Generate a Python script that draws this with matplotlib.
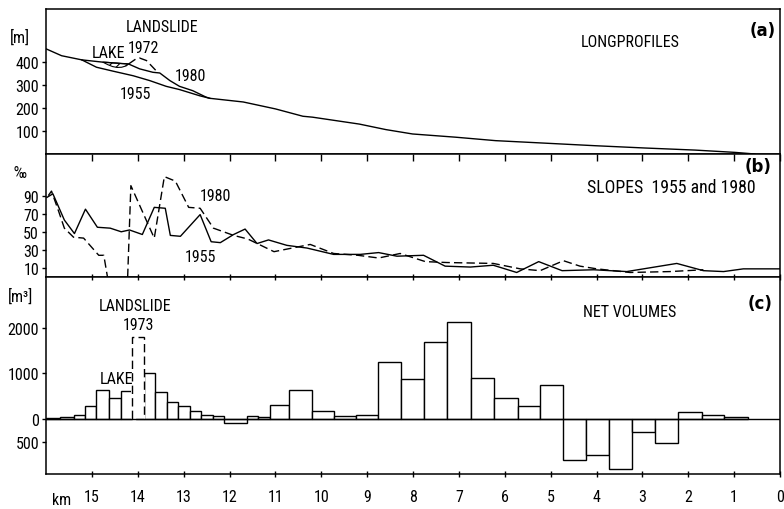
import numpy as np
import matplotlib
matplotlib.use("Agg")
import matplotlib.pyplot as plt

plt.rcParams['font.family'] = ['Roboto Condensed', 'DejaVu Sans']
plt.rcParams['font.size'] = 11.5
plt.rcParams['hatch.linewidth'] = 0.8

# (a) long profiles, km from mouth / elevation m
prof55_km = [16.0, 15.66, 15.22, 14.9, 14.54, 14.1, 13.74, 13.38, 13.09, 12.65, 12.43,
             11.7, 11.0, 10.4, 10.19, 9.17, 8.59, 8.01, 7.07, 6.2, 5.11, 4.03, 2.94, 1.85, 0.98, 0.55]
prof55_m = [457, 427, 409, 377, 360, 340, 319, 294, 280, 253, 242,
            226, 196, 164, 160, 130, 106, 87, 73, 58, 47, 36, 26, 17, 7, 0]
prof80_km = [15.22, 14.76, 14.2, 13.96, 13.67, 13.52, 13.3, 13.09, 12.8, 12.51, 12.43]
prof80_m = [409, 399, 391, 370, 355, 352, 319, 294, 275, 247, 242]
prof72_km = [14.2, 14.04, 13.96, 13.81, 13.6]
prof72_m = [391, 413, 417, 406, 362]
lake_km = [14.76, 14.65, 14.55, 14.45, 14.35, 14.25, 14.2]
lake_top = [399, 398, 396, 395, 393, 392, 391]
lake_bot = [399, 388, 380, 376, 377, 383, 391]

# (b) slopes in permille
slope55_km = [15.98, 15.85, 15.6, 15.38, 15.14, 14.88, 14.6, 14.36, 14.18, 13.9, 13.64, 13.4,
              13.29, 13.07, 12.64, 12.4, 12.2, 11.91, 11.66, 11.4, 11.15, 10.75, 10.31, 9.73,
              9.15, 8.75, 8.35, 7.77, 7.3, 6.75, 6.25, 5.74, 5.26, 4.75, 4.06, 3.34, 2.25,
              1.67, 1.23, 0.8, 0.0]
slope55 = [88, 92, 63, 48, 75, 55, 54, 50, 52, 47, 77, 76,
           46, 45, 69, 39, 38, 47, 53, 37, 41, 35, 32, 25,
           25, 27, 23, 24, 12, 11, 13, 5, 17, 7, 8, 6, 15,
           7, 6, 9, 9]
slope80_km = [15.95, 15.88, 15.72, 15.6, 15.4, 15.18, 14.85, 14.74, 14.66, 14.45, 14.22, 14.15,
              13.64, 13.42, 13.18, 12.89, 12.64, 12.35, 11.91, 11.6, 11.03, 10.24, 9.73, 9.2,
              8.75, 8.28, 7.73, 7.26, 6.25, 5.66, 5.23, 4.72, 4.36, 3.99, 3.27, 2.4, 1.67]
slope80 = [90, 95, 72, 54, 44, 43, 24, 24, 0, np.nan, 0, 101,
           43, 111, 106, 77, 76, 54, 46, 42, 28, 36, 26, 24,
           21, 26, 17, 16, 15, 9, 7, 18, 12, 9, 5, 6, 8]

# (c) net volumes per reach, m3
vol_edges = [16.0, 15.7, 15.4, 15.15, 14.9, 14.62, 14.37, 14.12, 13.87, 13.62, 13.37, 13.12,
             12.87, 12.62, 12.37, 12.12, 11.62, 11.37, 11.12, 10.7, 10.2, 9.72, 9.25, 8.76,
             8.26, 7.76, 7.25, 6.74, 6.23, 5.72, 5.23, 4.73, 4.23, 3.72, 3.23, 2.72, 2.22,
             1.71, 1.21, 0.7]
net_vol = [20, 35, 88, 279, 637, 454, 608, 1795, 1004, 601, 381, 279,
           183, 95, 59, -95, 73, 51, 315, 645, 169, 73, 95, 1245,
           879, 1700, 2139, 894, 454, 293, 755, -894, -791, -1099, -278, -527, 161,
           95, 51]
landslide_idx = 7

km_ticks = list(range(15, -1, -1))

fig = plt.figure(figsize=(7.84, 5.10), dpi=100)
L, W = 46 / 784, 734 / 784
ax_a = fig.add_axes([L, 1 - 155 / 510, W, 145 / 510])
ax_b = fig.add_axes([L, 1 - 278 / 510, W, 123 / 510])
ax_c = fig.add_axes([L, 1 - 475 / 510, W, 197 / 510])

for ax in (ax_a, ax_b, ax_c):
    ax.set_xlim(16, 0)
    ax.set_xticks(km_ticks)
    for s in ax.spines.values():
        s.set_linewidth(1.1)
    ax.tick_params(axis='y', direction='out', length=3, width=1, pad=2)

lw = 1.0
dash = (0, (6, 3))
tag = dict(ha='center', va='center', fontsize=12, fontweight='bold', family=['DejaVu Sans'])

# ---- (a)
ax_a.plot(prof55_km, prof55_m, color='k', lw=lw)
ax_a.plot(prof80_km, prof80_m, color='k', lw=lw)
ax_a.plot(prof72_km, prof72_m, color='k', lw=lw, ls=dash)
ax_a.fill_between(lake_km, lake_bot, lake_top, facecolor='none', edgecolor='k',
                  hatch='////', lw=0.8)
ax_a.set_ylim(0, 630)
ax_a.set_yticks([100, 200, 300, 400])
ax_a.tick_params(axis='x', bottom=False, labelbottom=False)
ax_a.text(13.46, 552, 'LANDSLIDE', ha='center', va='center')
ax_a.text(13.88, 461, '1972', ha='center', va='center')
ax_a.text(14.64, 443, 'LAKE', ha='center', va='center')
ax_a.text(12.85, 339, '1980', ha='center', va='center')
ax_a.text(14.05, 265, '1955', ha='center', va='center')
ax_a.text(3.27, 487, 'LONGPROFILES', ha='center', va='center')
ax_a.text(0.37, 540, '(a)', **tag)
ax_a.text(-0.035, 0.81, '[m]', transform=ax_a.transAxes, ha='center', va='center')

# ---- (b)
ax_b.plot(slope55_km, slope55, color='k', lw=lw)
ax_b.plot(slope80_km, slope80, color='k', lw=lw, ls=dash)
ax_b.set_ylim(0, 136)
ax_b.set_yticks([10, 30, 50, 70, 90])
ax_b.tick_params(axis='x', top=True, bottom=False, labelbottom=False,
                 direction='in', length=5, width=1)
ax_b.text(12.31, 90, '1980', ha='center', va='center')
ax_b.text(12.64, 23, '1955', ha='center', va='center')
ax_b.text(2.37, 100, 'SLOPES  1955 and 1980', ha='center', va='center', fontsize=12.8)
ax_b.text(0.48, 123, '(b)', **tag)
ax_b.text(-0.035, 0.85, '‰', transform=ax_b.transAxes, ha='center', va='center')

# ---- (c)
edges = np.array(vol_edges)
lo = edges[1:]
wid = edges[:-1] - edges[1:]
vals = np.array(net_vol, dtype=float)
solid = np.arange(len(vals)) != landslide_idx
ax_c.bar(lo[solid], vals[solid], width=wid[solid], align='edge',
         facecolor='white', edgecolor='k', lw=lw)
i = landslide_idx
ax_c.bar(lo[i] - 0.02, vals[i], width=wid[i] + 0.04, align='edge',
         facecolor='white', edgecolor='none', zorder=3)
ax_c.bar(lo[i], vals[i], width=wid[i], align='edge', facecolor='none',
         edgecolor='k', lw=lw, ls=dash, zorder=4)
ax_c.axhline(0, color='k', lw=lw, zorder=5)
ax_c.set_ylim(-1209, 3121)
ax_c.set_yticks([-500, 0, 1000, 2000])
ax_c.set_yticklabels(['500', '0', '1000', '2000'])
ax_c.set_xticklabels([str(k) for k in km_ticks])
ax_c.tick_params(axis='x', top=True, direction='in', length=5, width=1)
ax_c.xaxis.set_tick_params(which='major', direction='inout', pad=8)
ax_c.text(14.05, 2484, 'LANDSLIDE', ha='center', va='center')
ax_c.text(13.99, 2066, '1973', ha='center', va='center')
ax_c.text(14.47, 901, 'LAKE', ha='center', va='center')
ax_c.text(3.27, 2352, 'NET VOLUMES', ha='center', va='center')
ax_c.text(0.44, 2540, '(c)', **tag)
ax_c.text(-0.035, 0.905, '[m³]', transform=ax_c.transAxes, ha='center', va='center')
ax_c.text(0.008, -0.13, 'km', transform=ax_c.transAxes, ha='left', va='center')

fig.savefig('out.png', dpi=100)
